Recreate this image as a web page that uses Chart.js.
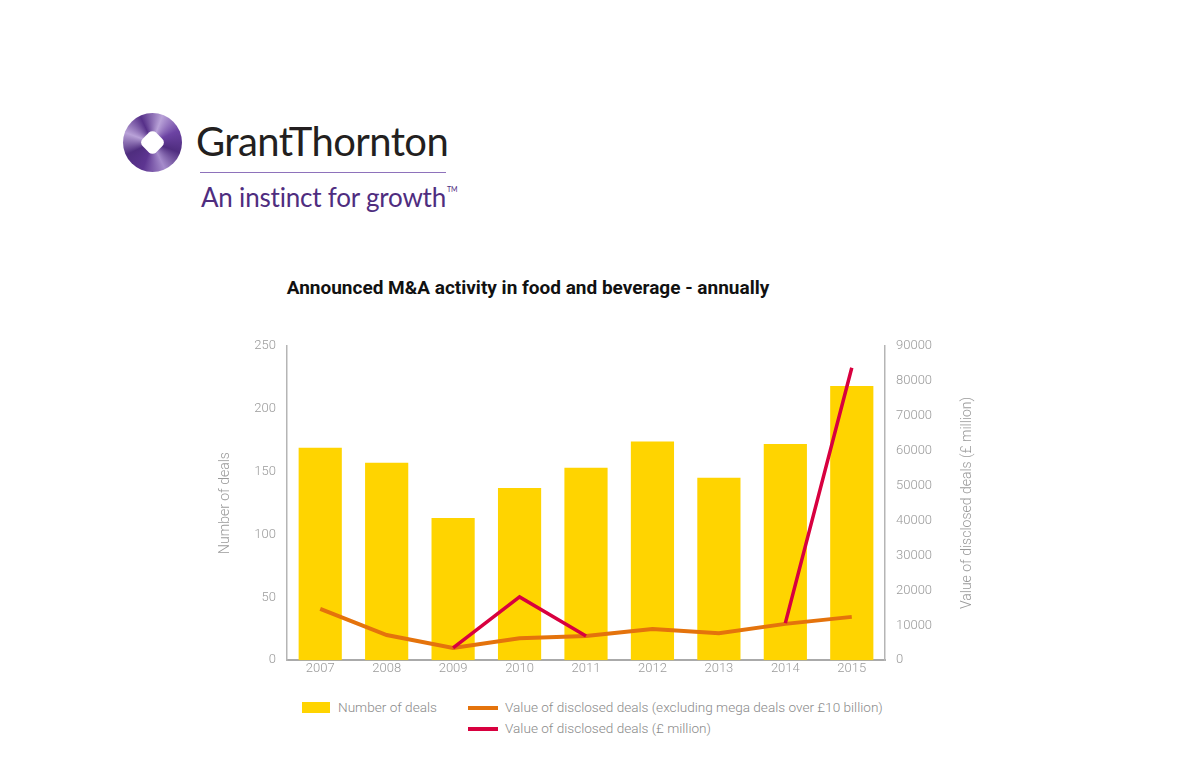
<!DOCTYPE html>
<html>
<head>
<meta charset="utf-8">
<script src="https://cdn.jsdelivr.net/npm/chart.js@4.4.1/dist/chart.umd.min.js"></script>
<style>
  body { margin: 0; background: #fff; width: 1200px; height: 783px; position: relative; overflow: hidden; font-family: Roboto, sans-serif; }
  .logo-ring { position: absolute; left: 123px; top: 113px; width: 59px; height: 59px; border-radius: 50%;
    background: conic-gradient(from 20deg, #b9a2d8, #6c43a3, #4f2d7f, #a58bcb, #5d3591, #4f2d7f, #b9a2d8, #563089, #b9a2d8); }
  .logo-hole { position: absolute; left: 20px; top: 20px; width: 19px; height: 19px; background: #fff; border-radius: 5px; transform: rotate(45deg); }
  .brand { position: absolute; left: 196px; top: 117px; font-family: Lato, sans-serif; font-size: 40px; color: #231f20; letter-spacing: -0.6px; }
  .rule { position: absolute; left: 200px; top: 172px; width: 246px; height: 1px; background: #8e72bb; }
  .tagline { position: absolute; left: 201px; top: 181px; font-family: Lato, sans-serif; font-size: 26px; color: #4f2d7f; letter-spacing: -0.2px; }
  .tagline sup { font-size: 7px; vertical-align: 15px; margin-left: 1px; }
  .title { position: absolute; left: 0; width: 1056px; top: 276px; text-align: center; font-family: Roboto, sans-serif; font-weight: bold; font-size: 19px; color: #111; }
  #wrap { position: absolute; left: 200px; top: 327px; width: 810px; height: 352px; }
  .legend { position: absolute; font-family: Roboto, sans-serif; font-weight: 300; font-size: 13.6px; color: #8a8a8a; }
  .legend span.sw { position: absolute; left: 0; }
  .legend span.tx { position: absolute; white-space: nowrap; }
</style>
</head>
<body>
<div class="logo-ring"><div class="logo-hole"></div></div>
<div class="brand">GrantThornton</div>
<div class="rule"></div>
<div class="tagline">An instinct for growth<sup>TM</sup></div>
<div class="title">Announced M&amp;A activity in food and beverage - annually</div>
<div id="wrap"><canvas id="maChart"></canvas></div>
<div id="legend"></div>
<script>
const years = ["2007", "2008", "2009", "2010", "2011", "2012", "2013", "2014", "2015"];
const dealCount = [169, 157, 113, 137, 153, 174, 145, 172, 218];
const valueExMega = [14700, 7200, 3500, 6300, 6900, 8900, 7700, 10400, 12400];
const valueAll = [null, null, 3500, 18100, 6900, null, null, 10600, 83700];
const leftTicks = [0, 50, 100, 150, 200, 250];
const rightTicks = [0, 10000, 20000, 30000, 40000, 50000, 60000, 70000, 80000, 90000];

const grey = '#9a9a9a';
const tickFont = { family: 'Roboto', size: 13, weight: '300' };

// right axis title reads bottom-to-top, so draw it by hand
const rightTitle = {
  id: 'rightTitle',
  afterDraw(chart) {
    const s = chart.scales.y1;
    const c = chart.ctx;
    c.save();
    c.translate(s.right - 43, (s.top + s.bottom) / 2);
    c.rotate(-Math.PI / 2);
    c.font = '300 14px Roboto';
    c.fillStyle = grey;
    c.textAlign = 'center';
    c.textBaseline = 'middle';
    c.fillText('Value of disclosed deals (£ million)', 0, 0);
    c.restore();
  }
};

const chart = new Chart(document.getElementById('maChart'), {
  data: {
    labels: years,
    datasets: [
      { type: 'line', label: 'Value of disclosed deals (£ million)', data: valueAll, yAxisID: 'y1',
        borderColor: '#d8003f', borderWidth: 3.5, pointRadius: 0, tension: 0, spanGaps: false, order: 1 },
      { type: 'line', label: 'Value of disclosed deals (excluding mega deals over £10 billion)', data: valueExMega, yAxisID: 'y1',
        borderColor: '#e4730c', borderWidth: 4, pointRadius: 0, tension: 0, order: 2 },
      { type: 'bar', label: 'Number of deals', data: dealCount, yAxisID: 'y',
        backgroundColor: '#ffd400', categoryPercentage: 0.65, barPercentage: 1, order: 3 }
    ]
  },
  options: {
    responsive: true,
    maintainAspectRatio: false,
    animation: false,
    layout: { padding: { top: 4, right: 0, bottom: 0, left: 0 } },
    plugins: { legend: { display: false }, tooltip: { enabled: false } },
    scales: {
      x: {
        grid: { display: false, drawTicks: false },
        border: { color: '#aaaaaa', width: 2 },
        ticks: { color: grey, font: tickFont, padding: 1 }
      },
      y: {
        position: 'left', min: 0, max: 250,
        afterBuildTicks: s => { s.ticks = leftTicks.map(v => ({ value: v })); },
        afterFit: s => { s.width = 87; },
        grid: { display: false, drawTicks: false },
        border: { color: '#b5b5b5', width: 1.5 },
        ticks: { color: grey, font: tickFont, padding: 11 },
        title: { display: true, text: 'Number of deals', color: grey, font: { family: 'Roboto', size: 14, weight: '300' }, padding: { top: 17 } }
      },
      y1: {
        position: 'right', min: 0, max: 90000,
        afterBuildTicks: s => { s.ticks = rightTicks.map(v => ({ value: v })); },
        afterFit: s => { s.width = 125; },
        grid: { display: false, drawTicks: false },
        border: { color: '#b5b5b5', width: 1.5 },
        ticks: { color: grey, font: tickFont, padding: 11, callback: v => String(v) }
      }
    }
  },
  plugins: [rightTitle]
});

// legend laid out as in the original: bar item left, the two line items stacked
const legend = document.getElementById('legend');
const items = [
  { ds: 2, x: 302, y: 699, sw: 'box' },
  { ds: 1, x: 468, y: 699, sw: 'line' },
  { ds: 0, x: 468, y: 720, sw: 'line' }
];
items.forEach(it => {
  const d = chart.data.datasets[it.ds];
  const el = document.createElement('div');
  el.className = 'legend';
  el.style.left = it.x + 'px';
  el.style.top = it.y + 'px';
  const sw = document.createElement('span');
  sw.className = 'sw';
  if (it.sw === 'box') {
    sw.style.cssText = 'top:3px;width:28px;height:11px;background:' + d.backgroundColor;
  } else {
    sw.style.cssText = 'top:7px;width:30px;height:4px;background:' + d.borderColor;
  }
  const tx = document.createElement('span');
  tx.className = 'tx';
  tx.style.left = (it.sw === 'box' ? 36 : 37) + 'px';
  tx.textContent = d.label;
  el.appendChild(sw);
  el.appendChild(tx);
  legend.appendChild(el);
});
</script>
</body>
</html>
